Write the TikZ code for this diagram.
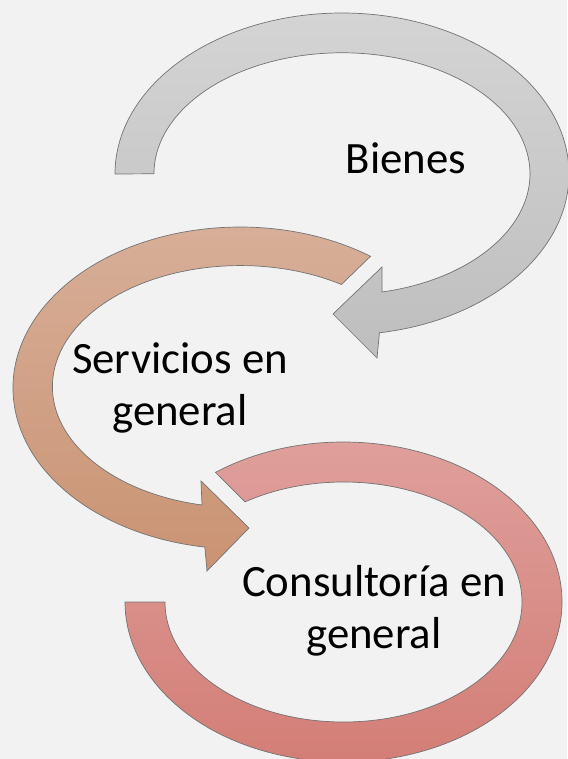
\documentclass[tikz,border=0pt]{standalone}
\usepackage{fontspec}
\setmainfont{Carlito}
\definecolor{bgc}{HTML}{F2F2F2}
\definecolor{grayT}{HTML}{D4D4D4}
\definecolor{grayB}{HTML}{BEBEBE}
\definecolor{tanT}{HTML}{D8B09A}
\definecolor{tanB}{HTML}{CA9373}
\definecolor{redT}{HTML}{E0A19E}
\definecolor{redB}{HTML}{D27C74}
\begin{document}
\begin{tikzpicture}[x=1pt,y=1pt,
  band/.style={draw=black!55, line width=0.7pt, line join=miter},
  lbl/.style={font=\fontsize{44.8}{52}\selectfont, align=center, anchor=base, inner sep=0pt}]
\fill[bgc] (0,0) rectangle (567,-759);
\useasboundingbox (0,0) rectangle (567,-759);
% Bienes arrow (gray)
\path[band, top color=grayT, bottom color=grayB]
 (115,-174) arc[start angle=180, end angle=-80.5, x radius=227, y radius=161]
 -- (377,-358) -- (333,-314) -- (382,-267) -- (382,-292)
 arc[start angle=-77.7, end angle=180, x radius=188, y radius=121] -- cycle;
% Servicios arrow (tan)
\path[band, top color=tanT, bottom color=tanB]
 (370.5,-256.3) arc[start angle=54.9, end angle=261.1, x radius=227, y radius=161]
 -- (207,-571) -- (249,-528) -- (201,-481) -- (202,-505)
 arc[start angle=258.2, end angle=57.5, x radius=188, y radius=121] -- cycle;
% Consultoria arc (red)
\path[band, top color=redT, bottom color=redB]
 (215.4,-472.4) arc[start angle=125.9, end angle=-180, x radius=218.5, y radius=160]
 -- (165,-602) arc[start angle=-180, end angle=123.5, x radius=178.5, y radius=120] -- cycle;
\node[lbl] (b) at (406,-174) {Bienes};
\node[lbl] (s) at (180,-425) {Servicios en\\general};
\node[lbl] (c) at (374,-648) {Consultoría en\\general};
\end{tikzpicture}
\end{document}
